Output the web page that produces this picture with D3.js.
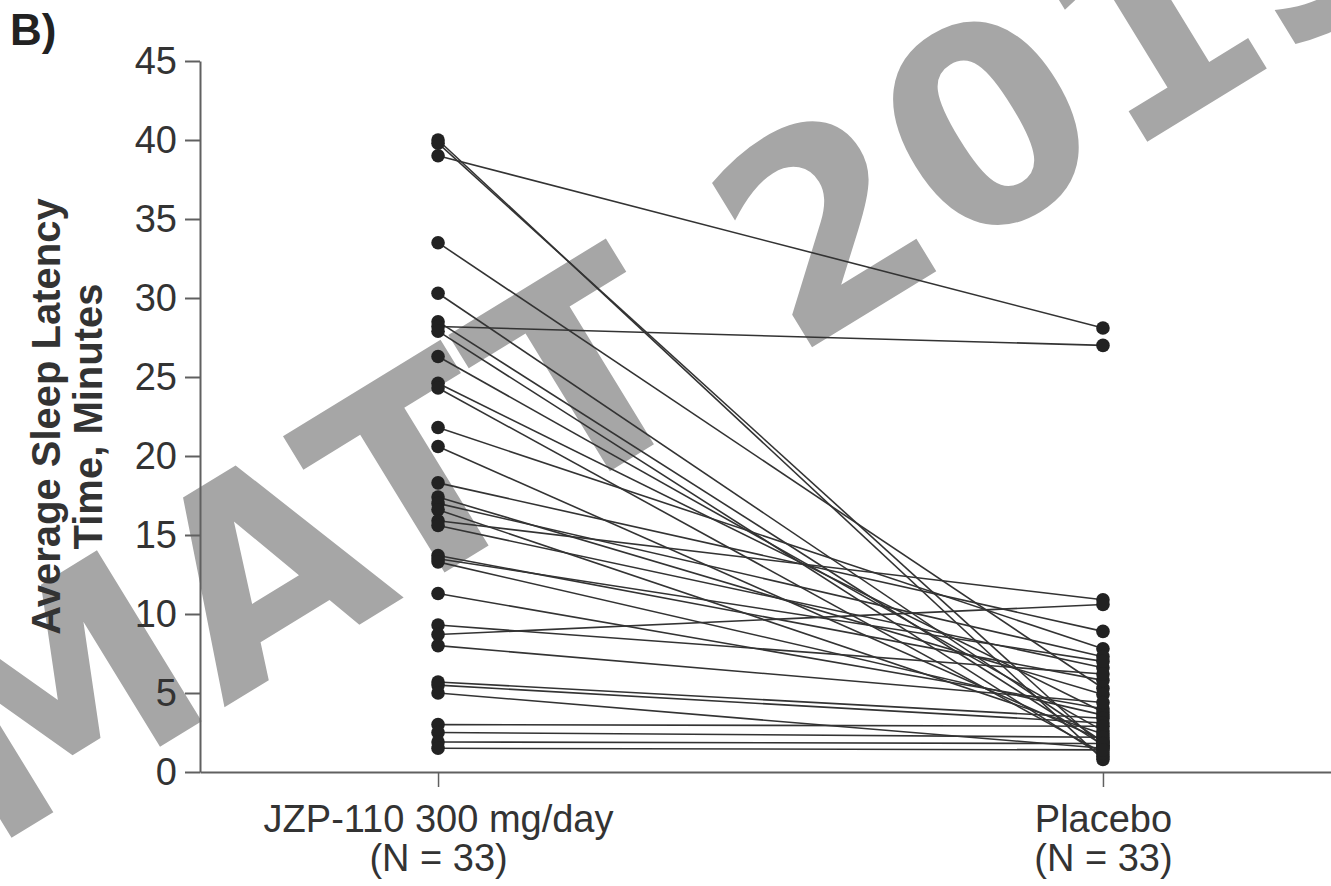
<!DOCTYPE html>
<html>
<head>
<meta charset="utf-8">
<script src="https://cdn.jsdelivr.net/npm/d3@7"></script>
<style>
  html, body { margin: 0; padding: 0; background: #ffffff; }
  svg { display: block; }
</style>
</head>
<body>
<div id="chart"></div>
<script>
// Paired sleep latency values, one entry per subject (same index = same subject)
const groups = ['JZP-110 300 mg/day', 'Placebo'];
const groupNs = ['(N = 33)', '(N = 33)'];
const jzpValues = [
    40.0, 39.8, 39.0, 33.5, 30.3, 28.5, 28.2, 27.9, 26.3, 24.6, 24.3,
    21.8, 20.6, 18.3, 17.4, 17.0, 16.6, 15.9, 15.6, 13.7, 13.5, 13.3,
    11.3, 9.3, 8.7, 8.0, 5.7, 5.5, 5.0, 3.0, 2.5, 1.9, 1.5
];
const placeboValues = [
    0.8, 1.6, 28.1, 5.3, 1.9, 1.7, 27.0, 1.0, 2.6, 3.8, 1.2,
    7.8, 2.0, 8.9, 4.9, 7.3, 2.4, 10.9, 6.6, 5.8, 7.0, 3.6,
    4.0, 6.2, 10.6, 4.4, 3.4, 3.1, 1.5, 2.9, 2.2, 1.8, 1.4
];
const yTicks = [0, 5, 10, 15, 20, 25, 30, 35, 40, 45];
const yTitleLines = ['Average Sleep Latency', 'Time, Minutes'];
const panelLabel = 'B)';
const watermarkText = 'MATT 2013';

renderChart('#chart');

function renderChart(selector) {
    const width = 1331;
    const height = 886;
    const margin = { top: 61, left: 200, bottom: 114 };
    const font = '"Liberation Sans", Arial, Helvetica, sans-serif';
    const axisColor = '#606060';
    const textColor = '#333333';

    const svg = d3.select(selector)
        .append('svg')
        .attr('width', width)
        .attr('height', height)
        .attr('font-family', font);

    // watermark sits underneath everything else
    svg.append('text')
        .attr('transform', 'translate(-10, 851) rotate(-31.5)')
        .attr('font-family', '"DejaVu Sans", Verdana, sans-serif')
        .attr('font-size', 275)
        .attr('font-weight', 'bold')
        .attr('fill', '#a6a6a6')
        .text(watermarkText);

    const x = d3.scalePoint()
        .domain(groups)
        .range([margin.left, width + 10])
        .padding(0.358);

    const y = d3.scaleLinear()
        .domain([0, 45])
        .range([height - margin.bottom, margin.top]);

    // y axis
    const yAxis = svg.append('g')
        .attr('transform', `translate(${margin.left}, 0)`)
        .call(d3.axisLeft(y).tickValues(yTicks).tickSize(15).tickSizeOuter(0).tickPadding(8))
        .attr('font-family', font)
        .attr('font-size', 38);

    yAxis.select('.domain').attr('stroke', axisColor).attr('stroke-width', 2);
    yAxis.selectAll('.tick line').attr('stroke', axisColor).attr('stroke-width', 2);
    yAxis.selectAll('.tick text').attr('fill', textColor);

    // x axis
    const xAxis = svg.append('g')
        .attr('transform', `translate(0, ${y(0)})`)
        .call(d3.axisBottom(x).tickSize(15).tickSizeOuter(0).tickPadding(18))
        .attr('font-family', font)
        .attr('font-size', 38);

    xAxis.select('.domain').attr('stroke', axisColor).attr('stroke-width', 2);
    xAxis.selectAll('.tick line').attr('stroke', axisColor).attr('stroke-width', 1.5);
    xAxis.selectAll('.tick text')
        .attr('fill', textColor)
        .each(function (d, i) {
            const label = d3.select(this);
            label.text(null);
            label.append('tspan').attr('x', 0).text(d);
            label.append('tspan').attr('x', 0).attr('dy', '1.03em').text(groupNs[i]);
        });

    // connecting lines, one per subject
    const pairs = jzpValues.map((value, i) => ({ jzp: value, placebo: placeboValues[i] }));

    svg.append('g')
        .selectAll('line')
        .data(pairs)
        .enter()
        .append('line')
        .attr('x1', x(groups[0]))
        .attr('y1', (d) => y(d.jzp))
        .attr('x2', x(groups[1]))
        .attr('y2', (d) => y(d.placebo))
        .attr('stroke', '#333333')
        .attr('stroke-width', 1.6);

    const dots = svg.append('g');

    dots.selectAll('circle.jzp')
        .data(jzpValues)
        .enter()
        .append('circle')
        .attr('class', 'jzp')
        .attr('cx', x(groups[0]))
        .attr('cy', (d) => y(d))
        .attr('r', 6.8)
        .attr('fill', '#222222');

    dots.selectAll('circle.placebo')
        .data(placeboValues)
        .enter()
        .append('circle')
        .attr('class', 'placebo')
        .attr('cx', x(groups[1]))
        .attr('cy', (d) => y(d))
        .attr('r', 6.8)
        .attr('fill', '#222222');

    // y axis title, two lines
    const yTitle = svg.append('text')
        .attr('transform', `translate(60, ${(y(0) + y(45)) / 2}) rotate(-90)`)
        .attr('text-anchor', 'middle')
        .attr('font-size', 40)
        .attr('font-weight', 'bold')
        .attr('fill', textColor);

    yTitle.append('tspan').attr('x', 0).attr('y', 0).text(yTitleLines[0]);
    yTitle.append('tspan').attr('x', 0).attr('dy', '1.05em').text(yTitleLines[1]);

    svg.append('text')
        .attr('x', 10)
        .attr('y', 45)
        .attr('font-size', 44)
        .attr('font-weight', 'bold')
        .attr('fill', '#222222')
        .text(panelLabel);
}
</script>
</body>
</html>
